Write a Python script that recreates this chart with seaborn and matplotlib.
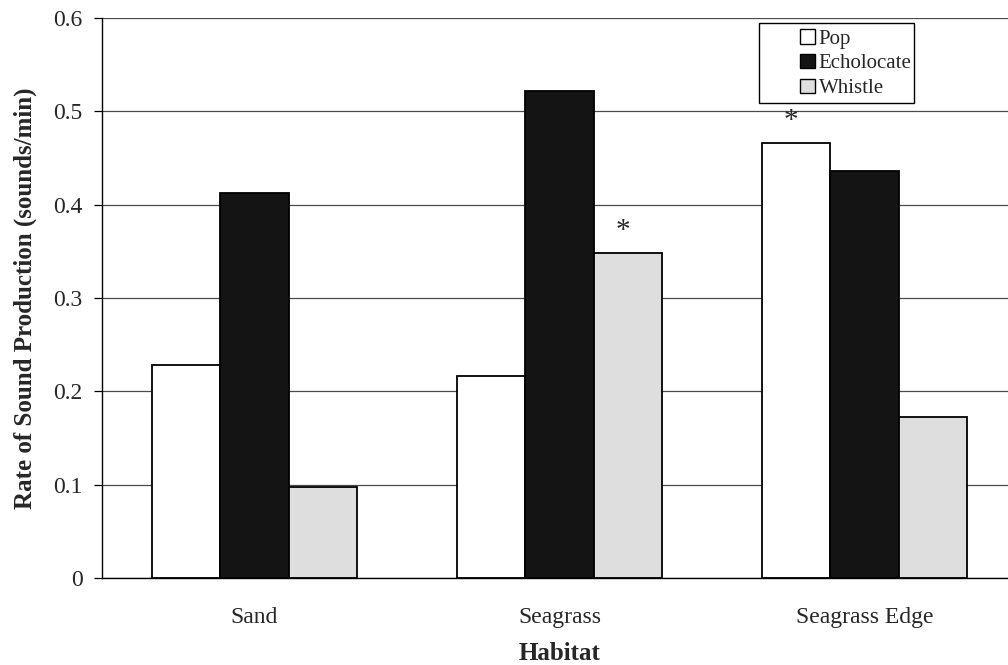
import pandas as pd
import matplotlib
matplotlib.use("Agg")
import matplotlib.pyplot as plt
import matplotlib.patches as mpatches
import seaborn as sns

# data
habitats = ["Sand", "Seagrass", "Seagrass Edge"]
sound_types = ["Pop", "Echolocate", "Whistle"]
pop_rate = [0.228, 0.216, 0.466]
echolocate_rate = [0.413, 0.522, 0.436]
whistle_rate = [0.098, 0.348, 0.172]
y_ticks = [0, 0.1, 0.2, 0.3, 0.4, 0.5, 0.6]
y_tick_labels = ["0", "0.1", "0.2", "0.3", "0.4", "0.5", "0.6"]
# bars marked with an asterisk (habitat, sound type)
starred = [("Seagrass", "Whistle"), ("Seagrass Edge", "Pop")]

sns.set_style("white")
plt.rcParams["font.family"] = ["Liberation Serif", "DejaVu Serif"]

df = pd.DataFrame({
    "habitat": habitats * 3,
    "sound": [s for s in sound_types for _ in habitats],
    "rate": pop_rate + echolocate_rate + whistle_rate,
})

colors = {"Pop": "#ffffff", "Echolocate": "#141414", "Whistle": "#dedede"}

fig = plt.figure(figsize=(10.08, 6.65), dpi=100)
ax = fig.add_axes([102 / 1008, 1 - 578 / 665, 915 / 1008, 560 / 665])

sns.barplot(data=df, x="habitat", y="rate", hue="sound", order=habitats,
            hue_order=sound_types, palette=colors, width=0.674,
            edgecolor="black", linewidth=1.3, saturation=1, ax=ax, legend=False)

ax.set_xlim(-0.5, 2.5)
ax.set_ylim(0, 0.6)
ax.set_yticks(y_ticks)
ax.set_yticklabels(y_tick_labels)
ax.yaxis.grid(True, color="#4a4a4a", linewidth=0.9)
ax.set_axisbelow(True)

# category separators as minor ticks on the x axis
ax.set_xticks([-0.5, 0.5, 1.5, 2.5], minor=True)
ax.tick_params(axis="x", which="major", length=0, pad=21, labelsize=17)
ax.tick_params(axis="x", which="minor", length=6, width=0.9, direction="out",
               color="black")
ax.tick_params(axis="y", length=6, width=0.9, direction="out", color="black",
               labelsize=17, pad=8, left=True)

for side in ["top", "right"]:
    ax.spines[side].set_visible(False)
for side in ["left", "bottom"]:
    ax.spines[side].set_color("black")
    ax.spines[side].set_linewidth(1.0)

ax.set_xlabel("Habitat", fontsize=18, fontweight="bold", labelpad=10)
ax.set_ylabel("Rate of Sound Production (sounds/min)", fontsize=18,
              fontweight="bold", labelpad=12)

# asterisks above significant bars
for hab, snd in starred:
    bar = ax.containers[sound_types.index(snd)][habitats.index(hab)]
    cx = bar.get_x() + bar.get_width() / 2
    ax.annotate("*", xy=(cx, bar.get_height()), xytext=(-5, 9),
                textcoords="offset pixels", ha="center", va="bottom",
                fontsize=21)

# legend with its box drawn separately (wide left margin as in original)
handles = [mpatches.Patch(facecolor=colors[s], edgecolor="black",
                          linewidth=1.0, label=s) for s in sound_types]
fig.legend(handles=handles, loc="upper left",
           bbox_to_anchor=(798 / 1008, 1 - 27 / 665), frameon=False,
           fontsize=15, handlelength=0.7, handleheight=0.7,
           handletextpad=0.2, labelspacing=0.25, borderpad=0.1,
           borderaxespad=0)
fig.patches.append(mpatches.Rectangle((759 / 1008, 1 - 103 / 665),
                                      155 / 1008, 80 / 665,
                                      transform=fig.transFigure,
                                      facecolor="white", edgecolor="black",
                                      linewidth=1.0, zorder=1))

fig.savefig("out.png", dpi=100)
